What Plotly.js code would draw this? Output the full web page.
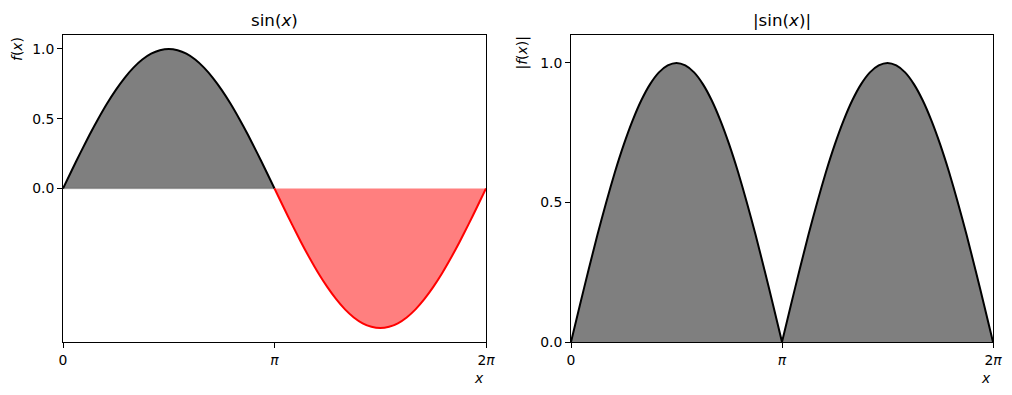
<!DOCTYPE html>
<html>
<head>
<meta charset="utf-8">
<script src="https://cdn.plot.ly/plotly-3.0.1.min.js"></script>
<style>html,body{margin:0;padding:0;background:#fff;}#chart{width:1012px;height:395px;}</style>
</head>
<body>
<div id="chart"></div>
<script>
// x positions in multiples of pi
const xFracPi = [0, 0.0417, 0.0833, 0.125, 0.1667, 0.2083, 0.25, 0.2917, 0.3333, 0.375, 0.4167, 0.4583,
                 0.5, 0.5417, 0.5833, 0.625, 0.6667, 0.7083, 0.75, 0.7917, 0.8333, 0.875, 0.9167, 0.9583,
                 1, 1.0417, 1.0833, 1.125, 1.1667, 1.2083, 1.25, 1.2917, 1.3333, 1.375, 1.4167, 1.4583,
                 1.5, 1.5417, 1.5833, 1.625, 1.6667, 1.7083, 1.75, 1.7917, 1.8333, 1.875, 1.9167, 1.9583, 2];
// f(x) = sin(x) values
const sinVals = [0, 0.131, 0.259, 0.383, 0.5, 0.609, 0.707, 0.793, 0.866, 0.924, 0.966, 0.991,
                 1.0, 0.991, 0.966, 0.924, 0.866, 0.793, 0.707, 0.609, 0.5, 0.383, 0.259, 0.131,
                 0, -0.131, -0.259, -0.383, -0.5, -0.609, -0.707, -0.793, -0.866, -0.924, -0.966, -0.991,
                 -1.0, -0.991, -0.966, -0.924, -0.866, -0.793, -0.707, -0.609, -0.5, -0.383, -0.259, -0.131, 0];
// |f(x)| values
const absVals = [0, 0.131, 0.259, 0.383, 0.5, 0.609, 0.707, 0.793, 0.866, 0.924, 0.966, 0.991,
                 1.0, 0.991, 0.966, 0.924, 0.866, 0.793, 0.707, 0.609, 0.5, 0.383, 0.259, 0.131,
                 0, 0.131, 0.259, 0.383, 0.5, 0.609, 0.707, 0.793, 0.866, 0.924, 0.966, 0.991,
                 1.0, 0.991, 0.966, 0.924, 0.866, 0.793, 0.707, 0.609, 0.5, 0.383, 0.259, 0.131, 0];
const xTickVals = [0, Math.PI, 2 * Math.PI];
const xTickText = ['0', '<i>π</i>', '2<i>π</i>'];
const yTickVals = [0, 0.5, 1.0];
const yTickText = ['0.0', '0.5', '1.0'];

const xs = xFracPi.map(v => v * Math.PI);
const half = 24;
const xA = xs.slice(0, half + 1), xB = xs.slice(half);

const FONT = 'DejaVu Sans, sans-serif';
const gray = 'rgba(0,0,0,0.5)';
const red = 'rgba(255,0,0,0.5)';

const traces = [
  {x: xA, y: sinVals.slice(0, half + 1), xaxis: 'x', yaxis: 'y', mode: 'lines', fill: 'tozeroy',
   fillcolor: gray, line: {color: '#000', width: 2, shape: 'spline', smoothing: 0.6}, hoverinfo: 'skip'},
  {x: [xA[0], xA[xA.length - 1]], y: [0, 0], xaxis: 'x', yaxis: 'y', mode: 'lines',
   line: {color: 'rgba(0,0,0,0.2)', width: 1.5}, hoverinfo: 'skip'},
  {x: xB, y: sinVals.slice(half), xaxis: 'x', yaxis: 'y', mode: 'lines', fill: 'tozeroy',
   fillcolor: red, line: {color: '#ff0000', width: 2, shape: 'spline', smoothing: 0.6}, hoverinfo: 'skip'},
  {x: xA, y: absVals.slice(0, half + 1), xaxis: 'x2', yaxis: 'y2', mode: 'lines', fill: 'tozeroy',
   fillcolor: gray, line: {color: '#000', width: 2, shape: 'spline', smoothing: 0.6}, hoverinfo: 'skip'},
  {x: xB, y: absVals.slice(half), xaxis: 'x2', yaxis: 'y2', mode: 'lines', fill: 'tozeroy',
   fillcolor: gray, line: {color: '#000', width: 2, shape: 'spline', smoothing: 0.6}, hoverinfo: 'skip'}
];

const W = 1012, H = 395;
const axBase = {showline: true, mirror: true, linecolor: '#000', linewidth: 1, showgrid: false,
  zeroline: false, ticks: 'outside', ticklen: 5, tickwidth: 1, tickcolor: '#000',
  tickfont: {family: FONT, size: 13.9, color: '#000'}, fixedrange: true};

const yDom = [(H - 342) / H, (H - 35) / H];
const layout = {
  width: W, height: H, margin: {l: 0, r: 0, t: 0, b: 0},
  paper_bgcolor: '#fff', plot_bgcolor: '#fff', showlegend: false,
  font: {family: FONT, color: '#000'},
  xaxis: Object.assign({}, axBase, {domain: [63 / W, 486 / W], range: [0, 2 * Math.PI],
    tickmode: 'array', tickvals: xTickVals, ticktext: xTickText, anchor: 'y'}),
  yaxis: Object.assign({}, axBase, {domain: yDom, range: [-1.1, 1.1],
    tickmode: 'array', tickvals: yTickVals, ticktext: yTickText, anchor: 'x'}),
  xaxis2: Object.assign({}, axBase, {domain: [571 / W, 993 / W], range: [0, 2 * Math.PI],
    tickmode: 'array', tickvals: xTickVals, ticktext: xTickText, anchor: 'y2'}),
  yaxis2: Object.assign({}, axBase, {domain: yDom, range: [0, 1.1],
    tickmode: 'array', tickvals: yTickVals, ticktext: yTickText, anchor: 'x2'}),
  annotations: [
    {text: 'sin(<i>x</i>)', xref: 'x domain', yref: 'y domain', x: 0.5, y: 1, xanchor: 'center',
     yanchor: 'bottom', yshift: 3, showarrow: false, font: {family: FONT, size: 16.7, color: '#000'}},
    {text: '|sin(<i>x</i>)|', xref: 'x2 domain', yref: 'y2 domain', x: 0.5, y: 1, xanchor: 'center',
     yanchor: 'bottom', yshift: 3, showarrow: false, font: {family: FONT, size: 16.7, color: '#000'}},
    {text: '<i>f</i>(<i>x</i>)', xref: 'paper', yref: 'y domain', x: 17 / W, y: 1, xanchor: 'center',
     yanchor: 'top', textangle: -90, showarrow: false, font: {family: FONT, size: 13.9, color: '#000'}},
    {text: '|<i>f</i>(<i>x</i>)|', xref: 'paper', yref: 'y2 domain', x: 522 / W, y: 1, xanchor: 'center',
     yanchor: 'top', textangle: -90, showarrow: false, font: {family: FONT, size: 13.9, color: '#000'}},
    {text: '<i>x</i>', xref: 'x domain', yref: 'paper', x: 1, y: (H - 378) / H, xanchor: 'right',
     yanchor: 'middle', showarrow: false, font: {family: FONT, size: 13.9, color: '#000'}},
    {text: '<i>x</i>', xref: 'x2 domain', yref: 'paper', x: 1, y: (H - 378) / H, xanchor: 'right',
     yanchor: 'middle', showarrow: false, font: {family: FONT, size: 13.9, color: '#000'}}
  ]
};

Plotly.newPlot('chart', traces, layout, {displayModeBar: false, staticPlot: true});
</script>
</body>
</html>
